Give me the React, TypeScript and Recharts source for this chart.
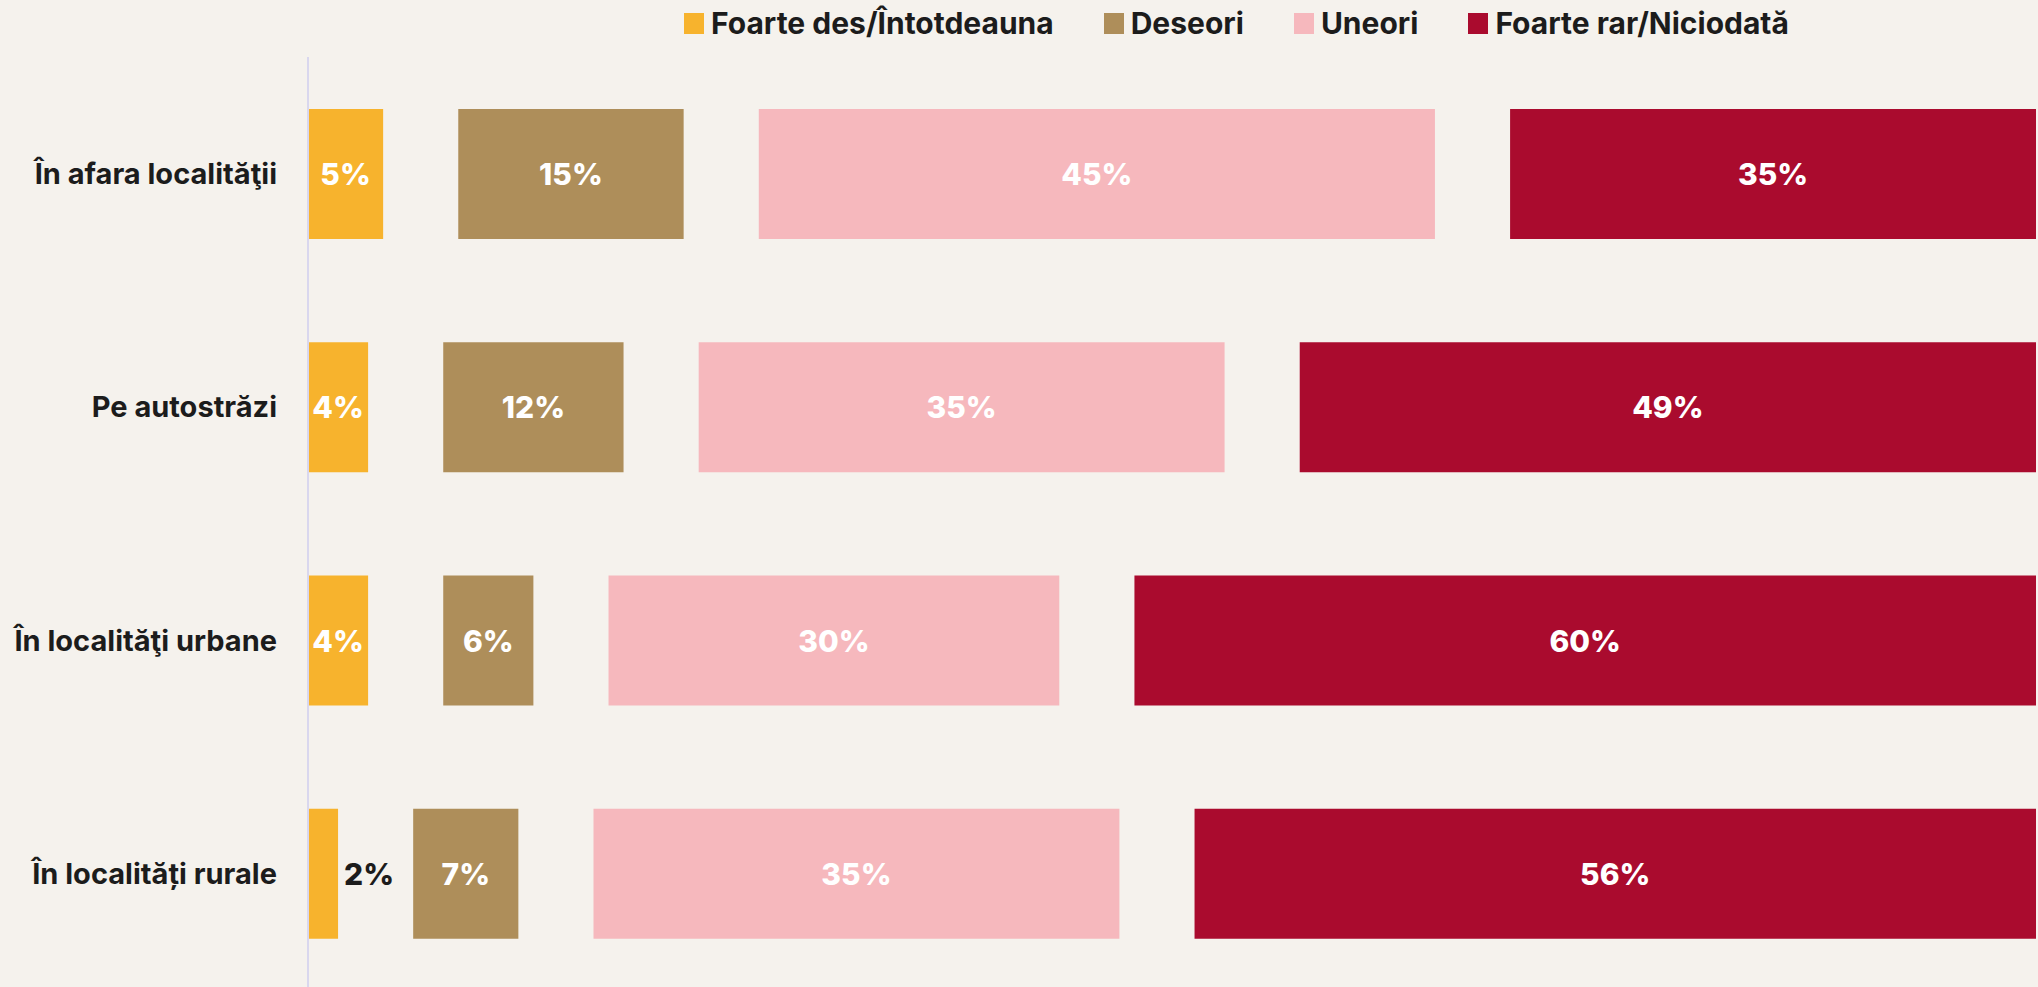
import React from "react";
import { BarChart, Bar, XAxis, YAxis, LabelList } from "recharts";

const categories = ["În afara localităţii", "Pe autostrăzi", "În localităţi urbane", "În localități rurale"];
const seriesNames = ["Foarte des/Întotdeauna", "Deseori", "Uneori", "Foarte rar/Niciodată"];
const foarteDes = [5, 4, 4, 2];
const deseori = [15, 12, 6, 7];
const uneori = [45, 35, 30, 35];
const foarteRar = [35, 49, 60, 56];
const GAP = 5;

const colors = ["#F7B32D", "#AE8E5A", "#F6B8BD", "#AA0B2E"];
const keys = ["s0", "s1", "s2", "s3"];
const FONT = "Inter, 'Open Sans', sans-serif";

const data = categories.map((c, i) => ({
  cat: c,
  s0: foarteDes[i],
  g0: GAP,
  s1: deseori[i],
  g1: GAP,
  s2: uneori[i],
  g2: GAP,
  s3: foarteRar[i],
}));

const renderLabel = (props: any) => {
  const { x, y, width, height, value } = props;
  const small = width < 40;
  return (
    <text
      x={small ? x + width + 6 : x + width / 2}
      y={y + height / 2}
      textAnchor={small ? "start" : "middle"}
      dominantBaseline="central"
      fill={small ? "#1c1c1c" : "#ffffff"}
      fontSize={30}
      fontWeight={800}
      fontFamily={FONT}
    >
      {value}%
    </text>
  );
};

const CatTick = (props: any) => {
  const { x, y, payload } = props;
  return (
    <text
      x={x}
      y={y}
      textAnchor="end"
      dominantBaseline="central"
      fill="#1c1c1c"
      fontSize={29}
      fontWeight={700}
      fontFamily={FONT}
    >
      {payload.value}
    </text>
  );
};

export default function App() {
  return (
    <div style={{ position: "absolute", left: 0, top: 0, width: 2038, height: 987, background: "#F5F2ED", overflow: "hidden" }}>
      <div
        style={{
          position: "absolute",
          top: 0,
          left: 0,
          height: 46,
          display: "flex",
          alignItems: "center",
          paddingLeft: 684,
          gap: 50,
          fontFamily: FONT,
          fontWeight: 700,
          fontSize: 30,
          color: "#1c1c1c",
          whiteSpace: "nowrap",
        }}
      >
        {seriesNames.map((n, i) => (
          <div key={n} style={{ display: "flex", alignItems: "center", gap: 7 }}>
            <div style={{ width: 20, height: 21, background: colors[i] }} />
            <span>{n}</span>
          </div>
        ))}
      </div>
      <div style={{ position: "absolute", top: 0, left: 0 }}>
        <BarChart
          width={2038}
          height={990}
          data={data}
          layout="vertical"
          margin={{ top: 57, right: 2, bottom: 0, left: 0 }}
          barSize={130}
        >
          <XAxis type="number" domain={[0, 115]} hide />
          <YAxis
            type="category"
            dataKey="cat"
            width={308}
            tickLine={false}
            axisLine={{ stroke: "#D9D7EE", strokeWidth: 2 }}
            tick={<CatTick />}
            tickMargin={25}
          />
          {keys.map((k, i) => (
            <React.Fragment key={k}>
              <Bar dataKey={k} stackId="a" fill={colors[i]} isAnimationActive={false}>
                <LabelList dataKey={k} content={renderLabel} />
              </Bar>
              {i < 3 && (
                <Bar dataKey={"g" + i} stackId="a" fill="transparent" isAnimationActive={false} legendType="none" />
              )}
            </React.Fragment>
          ))}
        </BarChart>
      </div>
    </div>
  );
}
